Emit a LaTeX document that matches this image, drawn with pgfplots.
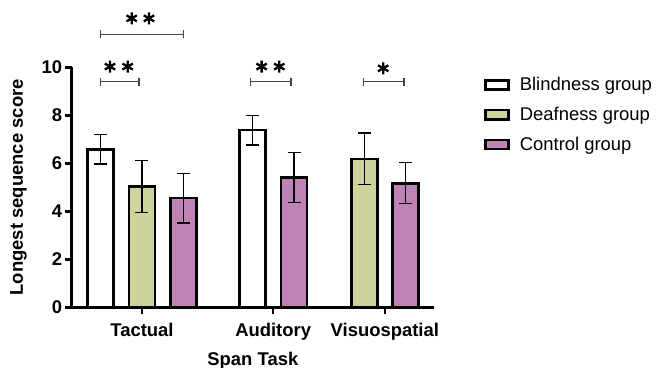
\documentclass[border=0pt]{standalone}
\usepackage{fontspec}
\setmainfont{Liberation Sans}
\usepackage{pgfplots}
\pgfplotsset{compat=1.18}
\definecolor{deaf}{HTML}{CFD39B}
\definecolor{ctrl}{HTML}{BD83B5}
\definecolor{brk}{HTML}{444444}
\pgfplotsset{
  mybar/.style={ybar, bar width=26bp, bar shift=0pt, draw=black, line width=2.6bp,
    error bars/.cd, y dir=both, y explicit,
    error bar style={line width=1.2bp, black},
    error mark options={line width=1.2bp, mark size=6.5bp, black, rotate=90},
    /pgfplots/.cd},
  brkt/.style={brk, line width=1.3bp, forget plot, mark=none},
}
\begin{document}
\begin{tikzpicture}
\useasboundingbox (-71.7bp,-60.7bp) rectangle (598.3bp,307.3bp);
\begin{axis}[
  at={(0,0)}, anchor=south west,
  width=362.3bp, height=240bp, scale only axis,
  xmin=0.314, xmax=9.01, ymin=0, ymax=10,
  axis x line=bottom, axis y line=left,
  axis line style={line width=2.6bp, -},
  xtick={2,5.15,7.83}, xticklabels={Tactual,Auditory,Visuospatial},
  ytick={0,2,4,6,8,10},
  tick style={line width=2.6bp, black},
  major tick length=7bp, tick align=outside,
  clip=false,
  /pgf/number format/assume math mode=true,
  ticklabel style={font=\bfseries\fontsize{18.5}{19}\selectfont},
  xticklabel style={yshift=-5bp},
  yticklabel style={xshift=1bp},
  label style={font=\bfseries\fontsize{18.5}{19}\selectfont},
  ylabel={Longest sequence score},
  xlabel={Span Task},
  ylabel style={yshift=8bp},
  xlabel style={yshift=-5bp},
  legend style={at={(axis description cs:1.13,0.975)}, anchor=north west, draw=none, fill=none,
    font=\fontsize{18.5}{19}\selectfont, row sep=11bp, column sep=8bp},
  legend cell align=left,
  area legend,
  legend image post style={xscale=1.35, yscale=1.6},
]
\addplot[mybar, fill=white] coordinates {(1,6.58) +- (0,0.61) (4.66,7.38) +- (0,0.62)};
\addlegendentry{Blindness group}
\addplot[mybar, fill=deaf] coordinates {(2,5.03) +- (0,1.07) (7.34,6.18) +- (0,1.08)};
\addlegendentry{Deafness group}
\addplot[mybar, fill=ctrl] coordinates {(3,4.55) +- (0,1.04) (5.65,5.42) +- (0,1.04) (8.33,5.17) +- (0,0.85)};
\addlegendentry{Control group}
% significance brackets
\addplot[brkt] coordinates {(1,11.375) (2.99,11.375)};
\addplot[brkt] coordinates {(1,11.2) (1,11.55)};
\addplot[brkt] coordinates {(2.99,11.2) (2.99,11.55)};
\addplot[brkt] coordinates {(1,9.4) (1.93,9.4)};
\addplot[brkt] coordinates {(1,9.23) (1,9.57)};
\addplot[brkt] coordinates {(1.93,9.23) (1.93,9.57)};
\addplot[brkt] coordinates {(4.61,9.4) (5.58,9.4)};
\addplot[brkt] coordinates {(4.61,9.23) (4.61,9.57)};
\addplot[brkt] coordinates {(5.58,9.23) (5.58,9.57)};
\addplot[brkt] coordinates {(7.31,9.4) (8.29,9.4)};
\addplot[brkt] coordinates {(7.31,9.23) (7.31,9.57)};
\addplot[brkt] coordinates {(8.29,9.23) (8.29,9.57)};
% significance asterisks
\addplot[only marks, forget plot, black, mark=asterisk, mark size=6bp, mark options={line width=2.3bp}]
  coordinates {(1.754,12.04) (2.169,12.04) (1.233,10.03) (1.658,10.03) (4.873,10.03) (5.296,10.03) (7.79,9.96)};
\end{axis}
\end{tikzpicture}
\end{document}
